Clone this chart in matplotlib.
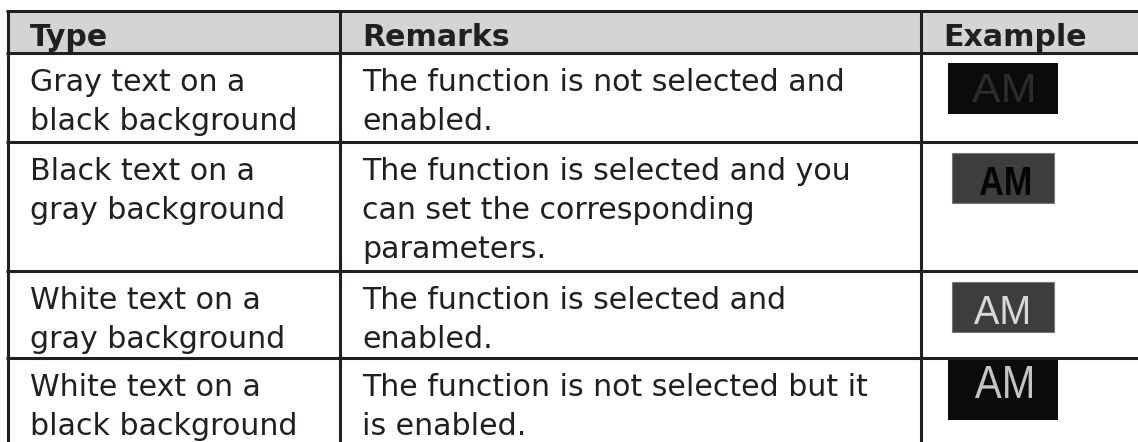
import matplotlib
matplotlib.use("Agg")
import matplotlib.pyplot as plt
from matplotlib.patches import Rectangle, PathPatch
from matplotlib.textpath import TextPath
from matplotlib.font_manager import FontProperties
from matplotlib.transforms import Affine2D

# ---- table content ----
headers = ["Type", "Remarks", "Example"]
types = [
    ["Gray text on a", "black background"],
    ["Black text on a", "gray background"],
    ["White text on a", "gray background"],
    ["White text on a", "black background"],
]
remarks = [
    ["The function is not selected and", "enabled."],
    ["The function is selected and you", "can set the corresponding", "parameters."],
    ["The function is selected and", "enabled."],
    ["The function is not selected but it", "is enabled."],
]
example_label = "AM"
example_bg = ["#0b0b0b", "#3d3c3f", "#3d3c3f", "#0b0b0b"]
example_fg = ["#2c2b2e", "#050505", "#d8d8d8", "#c4c4c4"]
example_bold = [False, True, False, False]

# ---- layout (pixels) ----
W, H = 1138, 442
left = 8
col_x = [8, 340, 921]
text_x = [30, 362, 943]
row_edges = [11, 53, 142, 271, 358]
first_base = 38
line_gap = 39
header_base = 46
ink = "#231f20"
header_bg = "#d3d4d6"
fs = 21.6  # points (~30 px)

icon_rects = [(948, 63, 1058, 114), (952, 153, 1054, 203),
              (952, 282, 1054, 332), (948, 357, 1058, 420)]
icon_text = [(972, 74, 1033, 102), (980, 167, 1030, 195),
             (974, 296, 1028, 324), (975, 366, 1032, 398)]

fig = plt.figure(figsize=(W / 100, H / 100), dpi=100)
ax = fig.add_axes([0, 0, 1, 1])
ax.set_xlim(0, W)
ax.set_ylim(H, 0)
ax.axis("off")

# header background
ax.add_patch(Rectangle((left, row_edges[0]), W - left, row_edges[1] - row_edges[0],
                       facecolor=header_bg, edgecolor="none", zorder=0))

lw = 2.2
for y in row_edges:
    ax.plot([left - 1.5, W], [y, y], color=ink, lw=lw, solid_capstyle="butt", zorder=3)
for x in col_x:
    ax.plot([x, x], [row_edges[0], H], color=ink, lw=lw, solid_capstyle="butt", zorder=3)

font = "DejaVu Sans"
for tx, h in zip(text_x, headers):
    ax.text(tx, header_base, h, fontsize=fs, fontweight="bold", family=font,
            color=ink, va="baseline", ha="left", zorder=4)

for i in range(len(types)):
    top = row_edges[i + 1]
    for j, line in enumerate(types[i]):
        ax.text(text_x[0], top + first_base + j * line_gap, line, fontsize=fs,
                family=font, color=ink, va="baseline", ha="left", zorder=4)
    for j, line in enumerate(remarks[i]):
        ax.text(text_x[1], top + first_base + j * line_gap, line, fontsize=fs,
                family=font, color=ink, va="baseline", ha="left", zorder=4)

# example icons
for i in range(len(types)):
    x0, y0, x1, y1 = icon_rects[i]
    ec = "#77767a" if example_bg[i] != "#0b0b0b" else "none"
    ax.add_patch(Rectangle((x0, y0), x1 - x0, y1 - y0, facecolor=example_bg[i],
                           edgecolor=ec, lw=0.8, zorder=2))
    prop = FontProperties(family="Liberation Sans",
                          weight="bold" if example_bold[i] else "normal")
    tp = TextPath((0, 0), example_label, size=1, prop=prop)
    ext = tp.get_extents()
    tx0, ty0, tx1, ty1 = icon_text[i]
    sx = (tx1 - tx0) / ext.width
    sy = (ty1 - ty0) / ext.height
    tr = (Affine2D().translate(-ext.x0, -ext.y0)
          .scale(sx, -sy).translate(tx0, ty1))
    path = tr.transform_path(tp)
    ax.add_patch(PathPatch(path, facecolor=example_fg[i], edgecolor="none", zorder=3))

fig.savefig("out.png", dpi=100, facecolor="white")
